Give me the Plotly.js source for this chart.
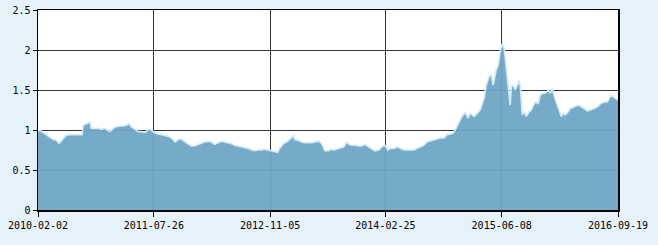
<!DOCTYPE html>
<html><head><meta charset="utf-8">
<script src="https://cdn.plot.ly/plotly-3.0.1.min.js"></script>
<style>html,body{margin:0;padding:0;background:#e6f2fa;}</style>
</head><body><div id="chart" style="width:658px;height:245px;"></div>
<script>
// position along the trading-day axis (sample index) and value
const idx = [0,3,5,8,12,15,18,21,23,27,30,33,37,40,44,45,48,52,53,57,60,63,67,70,72,75,78,82,85,88,91,93,97,100,103,107,110,113,117,120,123,127,130,133,137,140,143,147,
150,153,156,160,163,166,170,173,176,180,183,186,190,193,196,200,203,206,210,213,216,220,223,226,230,233,236,239,241,245,248,251,255,256,260,263,266,270,273,276,280,283,286,290,
292,295,298,301,305,308,310,313,317,320,323,326,330,333,336,340,343,346,349,351,355,358,361,365,368,371,375,378,381,385,388,391,395,398,401,405,408,411,414,417,419,422,424,426,429,431,
435,438,441,445,447,450,452,454,457,459,461,463,465,466,468,470,471,472,474,476,478,480,481,483,485,487,490,492,494,496,499,501,504,506,509,511,513,515,518,520,522,524,526,529,531,535,538,541,545,548,551,555,558,561,565,568,571,573,575,578.5];
const values = [0.99,0.99,0.97,0.94,0.90,0.88,0.875,0.83,0.86,0.92,0.94,0.94,0.945,0.94,0.94,1.06,1.08,1.10,1.02,1.02,1.02,1.01,1.02,0.99,0.98,1.02,1.04,1.05,1.05,1.06,1.08,1.04,1.01,0.98,0.98,0.97,1.01,1.0,0.96,0.95,0.94,0.93,0.92,0.90,0.85,0.88,0.89,0.85,
0.82,0.80,0.80,0.82,0.84,0.85,0.86,0.85,0.82,0.84,0.86,0.85,0.84,0.83,0.81,0.80,0.79,0.78,0.77,0.75,0.74,0.75,0.75,0.76,0.75,0.74,0.73,0.72,0.77,0.83,0.85,0.88,0.93,0.88,0.87,0.85,0.84,0.84,0.84,0.85,0.86,0.83,0.74,0.74,
0.76,0.75,0.76,0.77,0.79,0.85,0.82,0.81,0.81,0.80,0.80,0.82,0.79,0.77,0.74,0.75,0.79,0.81,0.75,0.77,0.77,0.79,0.77,0.75,0.75,0.75,0.75,0.77,0.79,0.81,0.85,0.86,0.875,0.89,0.90,0.90,0.94,0.95,0.96,1.02,1.08,1.15,1.19,1.22,1.15,1.21,
1.17,1.21,1.25,1.40,1.56,1.67,1.69,1.56,1.75,1.81,1.98,2.08,2.02,1.90,1.69,1.44,1.31,1.54,1.56,1.50,1.56,1.62,1.56,1.19,1.23,1.17,1.23,1.25,1.31,1.35,1.33,1.44,1.46,1.46,1.50,1.46,1.52,1.42,1.31,1.23,1.17,1.21,1.19,1.23,1.27,1.29,1.31,1.30,1.27,1.24,1.25,1.27,1.29,1.33,1.35,1.35,1.43,1.42,1.40,1.375];
const xTickIdx = [0,115.5,231.5,346.5,462.5,578.5];
const xTickLabels = ['2010-02-02','2011-07-26','2012-11-05','2014-02-25','2015-06-08','2016-09-19'];
const yTickVals = [0,0.5,1,1.5,2,2.5];
const yTickLabels = ['0','0.5','1','1.5','2','2.5'];

const font = {family:'DejaVu Sans Mono, monospace', size:10, color:'#000'};
Plotly.newPlot('chart', [{
  x: idx, y: values, type:'scatter', mode:'lines', fill:'tozeroy',
  fillcolor:'rgba(110,166,197,0.95)',
  line:{color:'#d4ebf7', width:1.6, shape:'linear'},
  hoverinfo:'skip'
}], {
  width:658, height:245,
  margin:{l:38, r:40, t:10, b:35, pad:0},
  paper_bgcolor:'#e6f2fa', plot_bgcolor:'#ffffff',
  showlegend:false,
  font: font,
  xaxis:{range:[0,578.5], tickvals:xTickIdx, ticktext:xTickLabels,
    showgrid:true, gridcolor:'#333333', gridwidth:1,
    showline:true, linecolor:'#000', linewidth:1.5, mirror:true,
    ticks:'outside', ticklen:5, tickcolor:'#000', tickwidth:1, tickfont:font,
    zeroline:false, fixedrange:true},
  yaxis:{range:[0,2.5], tickvals:yTickVals, ticktext:yTickLabels,
    showgrid:true, gridcolor:'#333333', gridwidth:1,
    showline:true, linecolor:'#000', linewidth:1.5, mirror:true,
    ticks:'outside', ticklen:4, tickcolor:'#000', tickwidth:1, tickfont:font,
    zeroline:false, fixedrange:true}
}, {displayModeBar:false, staticPlot:true});
</script></body></html>
